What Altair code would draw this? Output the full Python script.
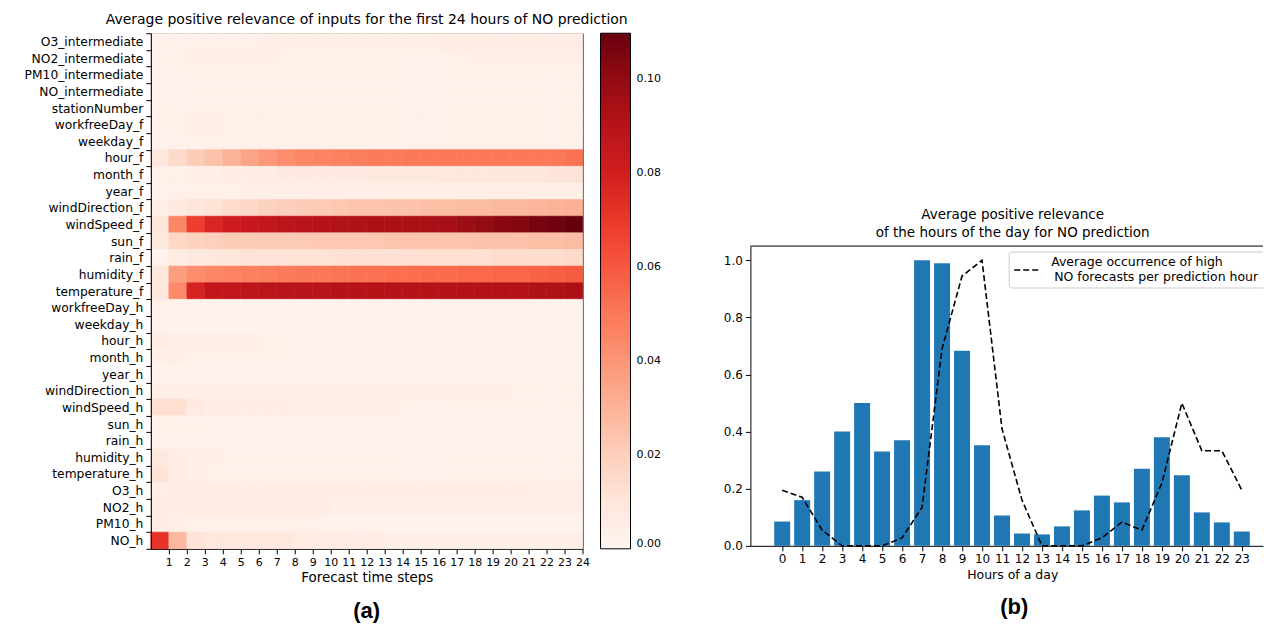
import altair as alt
import pandas as pd

# ---------------- data: panel (a) ----------------
features = [
    "O3_intermediate", "NO2_intermediate", "PM10_intermediate", "NO_intermediate",
    "stationNumber", "workfreeDay_f", "weekday_f", "hour_f", "month_f", "year_f",
    "windDirection_f", "windSpeed_f", "sun_f", "rain_f", "humidity_f", "temperature_f",
    "workfreeDay_h", "weekday_h", "hour_h", "month_h", "year_h", "windDirection_h",
    "windSpeed_h", "sun_h", "rain_h", "humidity_h", "temperature_h", "O3_h", "NO2_h",
    "PM10_h", "NO_h",
]
forecast_steps = list(range(1, 25))

relevance = [
    [0.003, 0.003, 0.003, 0.003, 0.003, 0.003, 0.004, 0.004, 0.004, 0.004, 0.004, 0.004, 0.004, 0.004, 0.004, 0.004, 0.005, 0.005, 0.005, 0.005, 0.005, 0.005, 0.005, 0.005],  # O3_intermediate
    [0.003, 0.003, 0.004, 0.004, 0.004, 0.004, 0.004, 0.003, 0.003, 0.003, 0.003, 0.003, 0.003, 0.003, 0.003, 0.003, 0.003, 0.003, 0.004, 0.004, 0.004, 0.004, 0.004, 0.004],  # NO2_intermediate
    [0.002, 0.003, 0.003, 0.003, 0.003, 0.003, 0.003, 0.003, 0.003, 0.003, 0.003, 0.003, 0.003, 0.003, 0.003, 0.003, 0.003, 0.003, 0.003, 0.003, 0.003, 0.003, 0.003, 0.003],  # PM10_intermediate
    [0.002, 0.003, 0.003, 0.003, 0.003, 0.003, 0.003, 0.003, 0.003, 0.003, 0.003, 0.003, 0.003, 0.003, 0.003, 0.003, 0.003, 0.003, 0.003, 0.003, 0.003, 0.003, 0.003, 0.003],  # NO_intermediate
    [0.003, 0.003, 0.003, 0.003, 0.003, 0.003, 0.003, 0.003, 0.003, 0.003, 0.003, 0.003, 0.003, 0.003, 0.003, 0.003, 0.003, 0.003, 0.003, 0.003, 0.003, 0.003, 0.003, 0.003],  # stationNumber
    [0.003, 0.003, 0.004, 0.004, 0.003, 0.003, 0.003, 0.003, 0.003, 0.003, 0.003, 0.003, 0.003, 0.003, 0.003, 0.003, 0.003, 0.003, 0.003, 0.003, 0.003, 0.003, 0.003, 0.003],  # workfreeDay_f
    [0.002, 0.003, 0.003, 0.003, 0.003, 0.003, 0.003, 0.003, 0.003, 0.003, 0.003, 0.003, 0.003, 0.003, 0.003, 0.003, 0.003, 0.003, 0.003, 0.003, 0.003, 0.003, 0.003, 0.003],  # weekday_f
    [0.009, 0.016, 0.021, 0.025, 0.030, 0.035, 0.039, 0.043, 0.045, 0.046, 0.047, 0.048, 0.049, 0.049, 0.050, 0.050, 0.050, 0.050, 0.050, 0.050, 0.050, 0.050, 0.050, 0.052],  # hour_f
    [0.003, 0.003, 0.004, 0.004, 0.006, 0.006, 0.006, 0.007, 0.007, 0.007, 0.007, 0.007, 0.008, 0.008, 0.008, 0.008, 0.009, 0.009, 0.009, 0.010, 0.010, 0.010, 0.011, 0.011],  # month_f
    [0.002, 0.003, 0.003, 0.003, 0.003, 0.004, 0.004, 0.004, 0.004, 0.004, 0.004, 0.004, 0.004, 0.004, 0.004, 0.004, 0.004, 0.004, 0.004, 0.004, 0.004, 0.004, 0.004, 0.004],  # year_f
    [0.004, 0.007, 0.010, 0.012, 0.015, 0.017, 0.019, 0.020, 0.021, 0.022, 0.023, 0.024, 0.024, 0.025, 0.025, 0.026, 0.026, 0.027, 0.027, 0.028, 0.028, 0.029, 0.030, 0.031],  # windDirection_f
    [0.010, 0.045, 0.068, 0.077, 0.081, 0.083, 0.086, 0.088, 0.089, 0.090, 0.091, 0.092, 0.093, 0.093, 0.094, 0.095, 0.096, 0.098, 0.100, 0.102, 0.104, 0.106, 0.108, 0.110],  # windSpeed_f
    [0.008, 0.017, 0.019, 0.020, 0.021, 0.021, 0.022, 0.022, 0.022, 0.023, 0.023, 0.023, 0.023, 0.024, 0.024, 0.024, 0.024, 0.024, 0.025, 0.025, 0.025, 0.026, 0.026, 0.027],  # sun_f
    [0.002, 0.006, 0.008, 0.009, 0.010, 0.011, 0.011, 0.012, 0.012, 0.012, 0.013, 0.013, 0.013, 0.013, 0.014, 0.014, 0.014, 0.014, 0.014, 0.015, 0.015, 0.015, 0.015, 0.016],  # rain_f
    [0.009, 0.037, 0.043, 0.045, 0.046, 0.047, 0.048, 0.049, 0.050, 0.050, 0.051, 0.052, 0.052, 0.053, 0.053, 0.054, 0.054, 0.055, 0.055, 0.056, 0.056, 0.057, 0.058, 0.059],  # humidity_f
    [0.009, 0.044, 0.078, 0.085, 0.086, 0.087, 0.088, 0.089, 0.089, 0.089, 0.090, 0.090, 0.090, 0.090, 0.090, 0.090, 0.091, 0.091, 0.091, 0.091, 0.091, 0.092, 0.092, 0.093],  # temperature_f
    [0.003, 0.002, 0.002, 0.002, 0.002, 0.002, 0.002, 0.002, 0.002, 0.002, 0.002, 0.002, 0.002, 0.002, 0.002, 0.002, 0.002, 0.002, 0.002, 0.002, 0.002, 0.002, 0.002, 0.002],  # workfreeDay_h
    [0.002, 0.002, 0.002, 0.002, 0.002, 0.002, 0.002, 0.002, 0.002, 0.002, 0.002, 0.002, 0.002, 0.002, 0.002, 0.002, 0.002, 0.002, 0.002, 0.002, 0.002, 0.002, 0.002, 0.002],  # weekday_h
    [0.005, 0.004, 0.004, 0.004, 0.004, 0.004, 0.003, 0.003, 0.002, 0.002, 0.002, 0.002, 0.002, 0.002, 0.002, 0.002, 0.002, 0.002, 0.002, 0.002, 0.002, 0.002, 0.002, 0.002],  # hour_h
    [0.004, 0.004, 0.003, 0.003, 0.003, 0.003, 0.003, 0.003, 0.002, 0.002, 0.002, 0.002, 0.002, 0.002, 0.002, 0.002, 0.002, 0.002, 0.002, 0.002, 0.002, 0.002, 0.002, 0.002],  # month_h
    [0.002, 0.002, 0.002, 0.002, 0.002, 0.002, 0.002, 0.002, 0.002, 0.002, 0.002, 0.002, 0.002, 0.002, 0.002, 0.002, 0.002, 0.002, 0.002, 0.002, 0.002, 0.002, 0.002, 0.002],  # year_h
    [0.004, 0.004, 0.004, 0.004, 0.004, 0.004, 0.004, 0.004, 0.004, 0.004, 0.004, 0.004, 0.004, 0.004, 0.004, 0.004, 0.004, 0.004, 0.004, 0.004, 0.003, 0.003, 0.003, 0.003],  # windDirection_h
    [0.014, 0.014, 0.007, 0.006, 0.005, 0.005, 0.005, 0.005, 0.004, 0.004, 0.004, 0.004, 0.004, 0.004, 0.003, 0.003, 0.003, 0.003, 0.003, 0.003, 0.003, 0.003, 0.003, 0.003],  # windSpeed_h
    [0.003, 0.003, 0.003, 0.002, 0.002, 0.002, 0.002, 0.002, 0.002, 0.002, 0.002, 0.002, 0.002, 0.002, 0.002, 0.002, 0.002, 0.002, 0.002, 0.002, 0.002, 0.002, 0.002, 0.002],  # sun_h
    [0.003, 0.002, 0.002, 0.002, 0.002, 0.002, 0.002, 0.002, 0.002, 0.002, 0.002, 0.002, 0.002, 0.002, 0.002, 0.002, 0.002, 0.002, 0.002, 0.002, 0.002, 0.002, 0.002, 0.002],  # rain_h
    [0.008, 0.005, 0.004, 0.004, 0.003, 0.003, 0.003, 0.003, 0.003, 0.003, 0.003, 0.003, 0.003, 0.003, 0.003, 0.003, 0.003, 0.003, 0.003, 0.003, 0.003, 0.003, 0.003, 0.003],  # humidity_h
    [0.012, 0.006, 0.004, 0.003, 0.003, 0.003, 0.003, 0.003, 0.003, 0.003, 0.003, 0.003, 0.003, 0.003, 0.003, 0.003, 0.003, 0.003, 0.003, 0.003, 0.003, 0.003, 0.003, 0.003],  # temperature_h
    [0.004, 0.006, 0.006, 0.006, 0.006, 0.006, 0.006, 0.006, 0.005, 0.005, 0.005, 0.005, 0.005, 0.005, 0.005, 0.005, 0.005, 0.005, 0.005, 0.005, 0.005, 0.004, 0.004, 0.004],  # O3_h
    [0.006, 0.005, 0.005, 0.005, 0.005, 0.005, 0.005, 0.005, 0.005, 0.005, 0.004, 0.004, 0.004, 0.004, 0.004, 0.004, 0.004, 0.004, 0.004, 0.004, 0.004, 0.004, 0.004, 0.004],  # NO2_h
    [0.006, 0.004, 0.003, 0.003, 0.003, 0.003, 0.003, 0.003, 0.003, 0.002, 0.002, 0.002, 0.002, 0.002, 0.002, 0.002, 0.002, 0.002, 0.002, 0.002, 0.002, 0.002, 0.002, 0.002],  # PM10_h
    [0.072, 0.028, 0.012, 0.009, 0.009, 0.008, 0.008, 0.008, 0.006, 0.006, 0.005, 0.005, 0.005, 0.004, 0.004, 0.004, 0.004, 0.004, 0.004, 0.004, 0.004, 0.004, 0.004, 0.004],  # NO_h
]
colorbar_ticks = [0.0, 0.02, 0.04, 0.06, 0.08, 0.10]
reds = ["#fff5f0", "#fee0d2", "#fcbba1", "#fc9272", "#fb6a4a", "#ef3b2c", "#cb181d", "#a50f15", "#67000d"]
color_max = 0.1097

# ---------------- data: panel (b) ----------------
hours = list(range(24))
hour_relevance = [0.085, 0.16, 0.26, 0.40, 0.50, 0.33, 0.37, 1.0, 0.99, 0.683, 0.352, 0.106,
                  0.043, 0.04, 0.068, 0.124, 0.176, 0.152, 0.27, 0.38, 0.247, 0.117, 0.082, 0.05]
high_no_occurrence = [0.195, 0.17, 0.055, 0.0, 0.0, 0.0, 0.028, 0.135, 0.69, 0.945, 1.0, 0.41,
                      0.16, 0.0, 0.0, 0.0, 0.028, 0.083, 0.055, 0.22, 0.5, 0.333, 0.333, 0.195]
y_ticks_b = [0.0, 0.2, 0.4, 0.6, 0.8, 1.0]
legend_lines = ["Average occurrence of high", "NO forecasts per prediction hour"]

# ---------------- build tables ----------------
rows = []
for f, vals in zip(features, relevance):
    for s, v in zip(forecast_steps, vals):
        rows.append({"feature": f, "x0": s - 1, "x1": s, "value": v})
heat_df = pd.DataFrame(rows)
bar_df = pd.DataFrame({"hour": hours, "relevance": hour_relevance, "occurrence": high_no_occurrence})

FONT = "DejaVu Sans"
HW, HH = 432, 516
BW, BH = 513, 300

cdomain = [color_max * i / 8 for i in range(9)]
# the cell edges are painted in the cell's own colour (hides anti-alias seams);
# a scaled copy of the value keeps that scale from being merged into the colour bar
edge_domain = [d * 1000 for d in cdomain]

heat = alt.Chart(heat_df).transform_calculate(
    edge="datum.value * 1000"
).mark_rect(strokeWidth=0.6).encode(
    x=alt.X("x0:Q", scale=alt.Scale(domain=[0, 24], nice=False, zero=False),
            axis=alt.Axis(values=forecast_steps, title="Forecast time steps", labelFontSize=11,
                          titleFontSize=13.5, tickSize=5, labelPadding=3, titlePadding=3,
                          labelFlush=False, labelOverlap=False)),
    x2="x1:Q",
    y=alt.Y("feature:N", sort=features,
            axis=alt.Axis(title=None, labelFontSize=12.3, tickSize=5, labelPadding=3,
                          tickBand="extent")),
    color=alt.Color("value:Q",
                    scale=alt.Scale(domain=cdomain, range=reds, interpolate="rgb", clamp=True),
                    legend=alt.Legend(type="gradient", title=None, orient="right", offset=18,
                                      gradientLength=HH, gradientThickness=30,
                                      values=colorbar_ticks, format=".2f",
                                      labelFontSize=11, labelFont=FONT, labelColor="black",
                                      labelBaseline="middle", labelOffset=6,
                                      gradientStrokeColor="black", gradientStrokeWidth=1)),
    stroke=alt.Stroke("edge:Q",
                      scale=alt.Scale(domain=edge_domain, range=reds, interpolate="rgb", clamp=True),
                      legend=None),
)
label_a = alt.Chart(pd.DataFrame({"t": ["(a)"]})).mark_text(
    font="Liberation Sans", fontWeight="bold", fontSize=22, baseline="middle", align="center"
).encode(x=alt.value(HW / 2), y=alt.value(578), text="t:N")

left = alt.layer(heat, label_a).properties(
    width=HW, height=HH,
    view=alt.ViewBackground(stroke="black", strokeWidth=1),
    title=alt.Title("Average positive relevance of inputs for the first 24 hours of NO prediction",
                    fontSize=14, font=FONT, fontWeight="normal", anchor="middle", offset=0),
)

xs = alt.Scale(domain=[-1.59, -1.59 + BW / 20.0], nice=False, zero=False)
ys = alt.Scale(domain=[0, 1.05], nice=False)
x_axis_b = alt.Axis(values=hours, format="d", title="Hours of a day", labelFontSize=12,
                    titleFontSize=12.5, tickSize=5, labelPadding=3, titlePadding=4, titleX=262,
                    labelOverlap=False, labelFlush=False)
y_axis_b = alt.Axis(values=y_ticks_b, format=".1f", title=None, labelFontSize=12, tickSize=5,
                    labelPadding=3)
bars = alt.Chart(bar_df).transform_calculate(
    b0="datum.hour - 0.4", b1="datum.hour + 0.4"
).mark_rect(color="#1f77b4").encode(
    x=alt.X("b0:Q", scale=xs, axis=x_axis_b),
    x2="b1:Q",
    y=alt.Y("relevance:Q", scale=ys, axis=y_axis_b),
    y2=alt.datum(0),
)
line = alt.Chart(bar_df).mark_line(color="black", strokeDash=[6, 3], strokeWidth=1.6).encode(
    x=alt.X("hour:Q", scale=xs, axis=x_axis_b), y=alt.Y("occurrence:Q", scale=ys, axis=y_axis_b)
)
one = pd.DataFrame({"a": [0]})
top_spine = alt.Chart(one).mark_rule(color="black", strokeWidth=1).encode(
    x=alt.value(0), x2=alt.value(BW), y=alt.value(0)
)
legend_box = alt.Chart(one).mark_rect(fill="white", stroke="#cccccc", strokeWidth=1,
                                      cornerRadius=3, clip=True).encode(
    x=alt.value(259), x2=alt.value(BW + 20), y=alt.value(6), y2=alt.value(42)
)
legend_dash = alt.Chart(one).mark_rule(color="black", strokeDash=[6, 3], strokeWidth=1.6).encode(
    x=alt.value(264), x2=alt.value(290), y=alt.value(24)
)
legend_t1 = alt.Chart(pd.DataFrame({"t": [legend_lines[0]]})).mark_text(
    align="left", baseline="middle", fontSize=12.5, font=FONT, color="black"
).encode(x=alt.value(301), y=alt.value(16), text="t:N")
legend_t2 = alt.Chart(pd.DataFrame({"t": [legend_lines[1]]})).mark_text(
    align="left", baseline="middle", fontSize=12.5, font=FONT, color="black"
).encode(x=alt.value(304), y=alt.value(30.5), text="t:N")
label_b = alt.Chart(pd.DataFrame({"t": ["(b)"]})).mark_text(
    font="Liberation Sans", fontWeight="bold", fontSize=22, baseline="middle", align="center"
).encode(x=alt.value(264), y=alt.value(361), text="t:N")

right = alt.layer(bars, line, top_spine, legend_box, legend_dash, legend_t1, legend_t2, label_b).properties(
    width=BW, height=BH,
    title=alt.Title(["Average positive relevance", "of the hours of the day for NO prediction"],
                    fontSize=13.5, font=FONT, fontWeight="normal", anchor="middle", offset=6,
                    lineHeight=18, dx=6),
)

spacer = alt.Chart(one).mark_point(opacity=0).encode(x=alt.value(0), y=alt.value(0)).properties(
    width=1, height=175
)
right_col = alt.vconcat(spacer, right, spacing=0)

chart = alt.hconcat(left, right_col, spacing=60).resolve_legend(
    color="independent", stroke="independent"
).resolve_scale(color="independent", stroke="independent").properties(
    padding={"left": 23, "top": 12, "right": 0, "bottom": 0}
).configure_view(stroke=None).configure_axis(
    labelFont=FONT, titleFont=FONT, labelColor="black", titleColor="black",
    tickColor="black", domainColor="black", grid=False, titleFontWeight="normal"
).configure_title(color="black")

chart.save("out.html", embed_options={"renderer": "svg", "actions": False})
